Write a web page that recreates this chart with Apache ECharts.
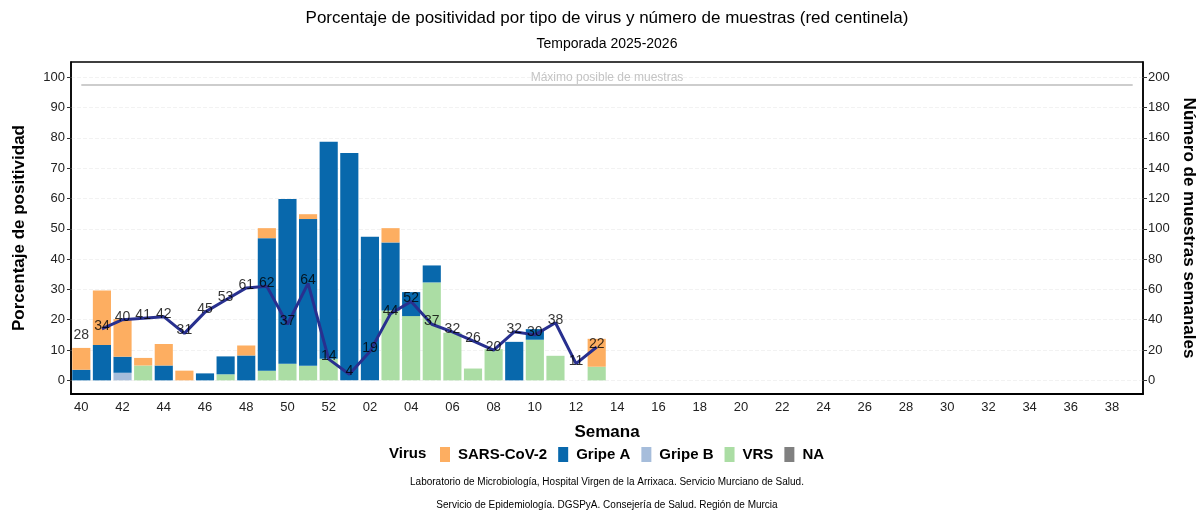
<!DOCTYPE html>
<html>
<head>
<meta charset="utf-8">
<title>Positividad red centinela</title>
<script src="https://cdn.jsdelivr.net/npm/echarts@6/dist/echarts.min.js"></script>
<style>
  html, body { margin: 0; padding: 0; background: #fff; }
  #grafico { width: 1199px; height: 510px; }
</style>
</head>
<body>
<div id="grafico"></div>
<script>
// semanas epidemiológicas de la temporada (40 a 39)
const semanas = ['40', '41', '42', '43', '44', '45', '46', '47', '48', '49', '50', '51', '52',
  '01', '02', '03', '04', '05', '06', '07', '08', '09', '10', '11', '12', '13', '14', '15', '16',
  '17', '18', '19', '20', '21', '22', '23', '24', '25', '26', '27', '28', '29', '30', '31', '32',
  '33', '34', '35', '36', '37', '38', '39']

// % positividad por virus, semanas 40..13 (resto sin datos)
const sarsCov2 = [7.2, 17.9, 12.4, 2.5, 7.1, 3.2, 0, 0, 3.3, 3.3, 0, 1.6, 0, 0, 0, 4.7, 0, 0, 0, 0, 0, 0, 0, 0, 0, 9.2]
const gripeA = [3.5, 11.7, 5.3, 0, 4.9, 0, 2.3, 5.9, 8.2, 43.7, 54.3, 48.4, 71.6, 75.0, 47.4, 22.5, 7.9, 5.6, 0, 0, 0, 12.7, 3.5, 0, 0, 0]
const gripeB = [0, 0, 2.5, 0, 0, 0, 0, 0, 0, 0, 0, 0, 0, 0, 0, 0, 0, 0, 0, 0, 0, 0, 0, 0, 0, 0]
const vrs = [0, 0, 0, 4.9, 0, 0, 0, 2.0, 0, 3.2, 5.5, 4.8, 7.1, 0, 0, 23.0, 21.2, 32.3, 15.7, 3.9, 10.3, 0, 13.4, 8.1, 0, 4.5]
const sinDato = []

// número de muestras semanales
const muestras = [28, 34, 40, 41, 42, 31, 45, 53, 61, 62, 37, 64, 14, 4, 19, 44, 52, 37, 32, 26, 20, 32, 30, 38, 11, 22]
const maxMuestras = 195

const ticksPct = [0, 10, 20, 30, 40, 50, 60, 70, 80, 90, 100]
const ticksMuestras = [0, 20, 40, 60, 80, 100, 120, 140, 160, 180, 200]

const fuente = '"Liberation Sans", Arial, sans-serif'

// la línea de muestras arranca en la semana 41 (la 40 solo lleva etiqueta)
const lineaMuestras = muestras.map((v, i) => (i === 0 ? null : v))

function barra(nombre, datos, color) {
  return {
    name: nombre,
    type: 'bar',
    stack: 'virus',
    barWidth: '88%',
    itemStyle: { color: color },
    data: datos
  }
}

function texto(x, y, txt, font, align) {
  return {
    type: 'text', x: x, y: y,
    style: {
      text: txt, font: font, fill: '#000',
      align: align, verticalAlign: 'middle', textAlign: align, textVerticalAlign: 'middle'
    }
  }
}

const myChart = echarts.init(document.getElementById('grafico'))
const option = {
  animation: false,
  textStyle: { fontFamily: fuente },
  graphic: [
    texto(607, 18, 'Porcentaje de positividad por tipo de virus y número de muestras (red centinela)', '17px ' + fuente, 'center'),
    texto(607, 44, 'Temporada 2025-2026', '14px ' + fuente, 'center'),
    texto(389, 454, 'Virus', 'bold 15px ' + fuente, 'left'),
    texto(607, 482, 'Laboratorio de Microbiología, Hospital Virgen de la Arrixaca. Servicio Murciano de Salud.', '10px ' + fuente, 'center'),
    texto(607, 505, 'Servicio de Epidemiología. DGSPyA. Consejería de Salud. Región de Murcia', '10px ' + fuente, 'center')
  ],
  legend: {
    left: 435,
    top: 442,
    icon: 'rect',
    itemWidth: 10,
    itemHeight: 15,
    itemGap: 11,
    textStyle: { fontSize: 15, fontWeight: 'bold', color: '#000', padding: [0, 0, 0, 3] },
    data: ['SARS-CoV-2', 'Gripe A', 'Gripe B', 'VRS', 'NA']
  },
  grid: {
    left: 71,
    right: 56,
    top: 62,
    bottom: 116,
    outerBoundsMode: 'none',
    containLabel: false,
    show: true,
    borderColor: '#000',
    borderWidth: 1.5
  },
  xAxis: {
    type: 'category',
    data: semanas,
    boundaryGap: true,
    name: 'Semana',
    nameLocation: 'middle',
    nameGap: 30,
    nameTextStyle: { fontSize: 17, fontWeight: 'bold', color: '#000' },
    axisLine: { onZero: false, lineStyle: { color: '#000', width: 2 } },
    axisTick: { interval: 1, alignWithLabel: true, length: 4, lineStyle: { color: '#333' } },
    axisLabel: { interval: 1, fontSize: 13, color: '#222', margin: 7 },
    splitLine: { show: false }
  },
  yAxis: [
    {
      type: 'value',
      min: -4.5,
      max: 105,
      name: 'Porcentaje de positividad',
      nameLocation: 'middle',
      nameGap: 43,
      nameTextStyle: { fontSize: 17, fontWeight: 'bold', color: '#000' },
      axisLine: { show: true, lineStyle: { color: '#000', width: 1.5 } },
      axisTick: { show: true, length: 4, customValues: ticksPct, lineStyle: { color: '#333' } },
      axisLabel: { customValues: ticksPct, fontSize: 13, color: '#222', margin: 6 },
      splitLine: { show: true, lineStyle: { color: '#f2f2f2', type: 'dashed' } }
    },
    {
      type: 'value',
      position: 'right',
      min: -9,
      max: 210,
      name: 'Número de muestras semanales',
      nameLocation: 'middle',
      nameRotate: -90,
      nameGap: 36,
      nameTextStyle: { fontSize: 17, fontWeight: 'bold', color: '#000' },
      axisLine: { show: true, lineStyle: { color: '#000', width: 1.5 } },
      axisTick: { show: true, length: 4, customValues: ticksMuestras, lineStyle: { color: '#333' } },
      axisLabel: { customValues: ticksMuestras, fontSize: 13, color: '#222', margin: 5 },
      splitLine: { show: false }
    }
  ],
  series: [
    barra('NA', sinDato, '#808080'),
    barra('VRS', vrs, '#abdda4'),
    barra('Gripe B', gripeB, '#a6bddb'),
    barra('Gripe A', gripeA, '#0868ac'),
    barra('SARS-CoV-2', sarsCov2, '#fdae61'),
    {
      name: 'Muestras',
      type: 'line',
      yAxisIndex: 1,
      data: lineaMuestras,
      symbol: 'none',
      lineStyle: { color: '#28308f', width: 3 },
      z: 5,
      markLine: {
        silent: true,
        symbol: 'none',
        lineStyle: { color: '#bdbdbd', width: 1.5, type: 'solid' },
        label: {
          show: true,
          position: 'middle',
          formatter: 'Máximo posible de muestras',
          color: '#c4c4c4',
          fontSize: 12,
          distance: 1
        },
        data: [[
          { xAxis: semanas[0], yAxis: maxMuestras },
          { xAxis: semanas[semanas.length - 1], yAxis: maxMuestras }
        ]]
      }
    },
    {
      name: 'Etiquetas',
      type: 'scatter',
      yAxisIndex: 1,
      data: muestras,
      symbolSize: 0,
      z: 6,
      label: {
        show: true,
        position: 'inside',
        offset: [0, -3],
        fontSize: 14,
        color: '#000'
      }
    }
  ]
}
myChart.setOption(option)
</script>
</body>
</html>
